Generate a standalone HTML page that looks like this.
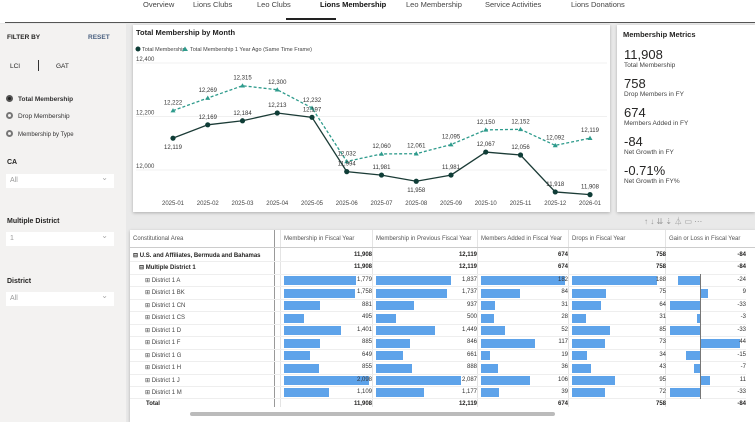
<!DOCTYPE html>
<html><head><meta charset="utf-8">
<style>
*{box-sizing:border-box;margin:0;padding:0}
body{width:755px;height:422px;overflow:hidden;background:#e9e9e9;font-family:"Liberation Sans",sans-serif;position:relative;color:#252423}
.abs{position:absolute}
.nav{left:0;top:0;width:755px;height:23px;background:#fff}
.nav span{position:absolute;top:0;font-size:7.5px;color:#444}
.left{left:0;top:24px;width:126px;height:398px;background:#f3f2f1}
.card{background:#fff;box-shadow:0 1px 3px rgba(0,0,0,.25)}
.t{font-size:6px;white-space:nowrap;position:absolute}
.dd{position:absolute;left:6px;width:108px;height:14px;background:#fff;font-size:7px;color:#999;padding:3px 4px}
.dd:after{content:"⌄";position:absolute;right:6px;top:-1px;color:#aaa;font-size:8px}
.radio{position:absolute;left:6px;font-size:6.5px;color:#333}
.radio i{display:inline-block;width:7px;height:7px;border-radius:50%;border:2px solid #777;vertical-align:-1px;margin-right:5px}
.m{position:absolute;left:7px}
.m b{font-weight:normal;font-size:13px;display:block;line-height:15px}
.m s{text-decoration:none;font-size:6.5px;color:#444;display:block;line-height:8px}
</style></head><body>
<div class="abs nav">
<span style="left:143px">Overview</span>
<span style="left:193px">Lions Clubs</span>
<span style="left:257px">Leo Clubs</span>
<span style="left:320px;font-weight:bold;color:#111">Lions Membership</span>
<span style="left:406px">Leo Membership</span>
<span style="left:485px">Service Activities</span>
<span style="left:571px">Lions Donations</span>
<div class="abs" style="left:286px;top:18px;width:50px;height:2px;background:#222"></div>
<div class="abs" style="left:5px;top:22px;width:750px;height:1px;background:#555"></div>
</div>

<div class="abs left">
<div class="t" style="left:7px;top:10px;font-weight:bold;font-size:6.5px">FILTER BY</div>
<div class="t" style="left:88px;top:10px;font-weight:bold;font-size:6.5px;color:#4a6080">RESET</div>
<div class="t" style="left:10px;top:39px;font-size:6.5px">LCI</div>
<div class="abs" style="left:38px;top:36px;width:1px;height:11px;background:#333"></div>
<div class="t" style="left:56px;top:39px;font-size:6.5px">GAT</div>
<div class="radio" style="top:71px;font-weight:bold"><i style="background:#222;border-color:#555"></i>Total Membership</div>
<div class="radio" style="top:88px"><i></i>Drop Membership</div>
<div class="radio" style="top:106px;font-size:6px"><i></i>Membership by Type</div>
<div class="t" style="left:7px;top:135px;font-weight:bold;font-size:7px">CA</div>
<div class="dd" style="top:150px">All</div>
<div class="t" style="left:7px;top:194px;font-weight:bold;font-size:7px">Multiple District</div>
<div class="dd" style="top:208px">1</div>
<div class="t" style="left:7px;top:254px;font-weight:bold;font-size:7px">District</div>
<div class="dd" style="top:268px">All</div>
</div>

<div class="abs card" style="left:133px;top:25px;width:477px;height:187px">
<svg id="chart" width="477" height="187" style="position:absolute;left:0;top:0"></svg>
</div>

<div class="abs card" style="left:617px;top:25px;width:138px;height:187px">
<div class="t" style="left:6px;top:5px;font-weight:bold;font-size:7.5px">Membership Metrics</div>
<div class="m" style="top:22px"><b>11,908</b><s>Total Membership</s></div>
<div class="m" style="top:51px"><b>758</b><s>Drop Members in FY</s></div>
<div class="m" style="top:80px"><b>674</b><s>Members Added in FY</s></div>
<div class="m" style="top:109px"><b>-84</b><s>Net Growth in FY</s></div>
<div class="m" style="top:138px"><b>-0.71%</b><s>Net Growth in FY%</s></div>
</div>
<div class="t" style="left:644px;top:216px;font-size:8px;color:#999">↑ ↓ ⇊ ⇣ ⏃ ▭ ⋯</div>

<div class="abs card" id="tbl" style="left:130px;top:230px;width:625px;height:192px"></div>

<script>
const months=["2025-01","2025-02","2025-03","2025-04","2025-05","2025-06","2025-07","2025-08","2025-09","2025-10","2025-11","2025-12","2026-01"];
const current=[12119,12169,12184,12213,12197,11994,11981,11958,11981,12067,12056,11918,11908];
const prior=[12222,12269,12315,12300,12232,12032,12060,12061,12095,12150,12152,12092,12119];
const yTicks=[12000,12200,12400];

const NS="http://www.w3.org/2000/svg";
const svg=document.getElementById('chart');
function mk(tag,attrs,parent){const e=document.createElementNS(NS,tag);for(const k in attrs)e.setAttribute(k,attrs[k]);(parent||svg).appendChild(e);return e;}
function txt(x,y,s,attrs){const e=mk('text',Object.assign({x:x,y:y,'font-size':6,'font-family':'Liberation Sans, sans-serif',fill:'#444'},attrs||{}));e.textContent=s;return e;}
const X=i=>40+i*34.75;
const Y=v=>145-(v-12000)*(53.5/200);
const ttl=txt(3,10,"Total Membership by Month",{'font-size':7.5,'font-weight':'bold',fill:'#222'});


const lg1=mk('circle',{cx:5,cy:24,r:2.5,fill:'#0f3d37'});


txt(9,26,"Total Membership",{'font-size':5.5});
const lg2=mk('path',{d:'M52,21.5 L55,26 L49,26 Z',fill:'#2e9b8c'});


txt(57,26,"Total Membership 1 Year Ago (Same Time Frame)",{'font-size':5.5});
yTicks.forEach(v=>{
  const g=mk('line',{x1:3,x2:474,y1:Y(v),y2:Y(v),stroke:'#f0f0f0','stroke-width':1});
  
  
  const l=txt(3,Y(v)-2,v.toLocaleString('en-US'),{'font-size':6});
  
  
});
months.forEach((m,i)=>{
  const l=txt(X(i),180,m,{'text-anchor':'middle'});
  
  
});
const pp=mk('polyline',{points:prior.map((v,i)=>X(i)+','+Y(v)).join(' '),fill:'none',stroke:'#2e9b8c','stroke-width':1.3,'stroke-dasharray':'3,2'});


const cp=mk('polyline',{points:current.map((v,i)=>X(i)+','+Y(v)).join(' '),fill:'none',stroke:'#1b3b36','stroke-width':1.3});


prior.forEach((v,i)=>{
  const x=X(i),y=Y(v);
  const t=mk('path',{d:`M${x},${y-2.5} L${x+2.5},${y+1.8} L${x-2.5},${y+1.8} Z`,fill:'#2e9b8c'});
  
  
  const l=txt(x,y-6,v.toLocaleString('en-US'),{'text-anchor':'middle','font-size':6,fill:'#333'});
  
  
});
current.forEach((v,i)=>{
  const x=X(i),y=Y(v);
  const c=mk('circle',{cx:x,cy:y,r:2.6,fill:'#0f3d37'});
  
  
  const below=(i===0||i===7);
  const l=txt(x,below?y+11:y-6,v.toLocaleString('en-US'),{'text-anchor':'middle','font-size':6,fill:'#333'});
  
  
});

// table
const districts=["District 1 A","District 1 BK","District 1 CN","District 1 CS","District 1 D","District 1 F","District 1 G","District 1 H","District 1 J","District 1 M"];
const memFY=[1779,1758,881,495,1401,885,649,855,2098,1109];
const memPrev=[1837,1737,937,500,1449,846,661,888,2087,1177];
const added=[182,84,31,28,52,117,19,36,106,39];
const drops=[188,75,64,31,85,73,34,43,95,72];
const gain=[-24,9,-33,-3,-33,44,-15,-7,11,-33];
const totals=["11,908","12,119","674","758","-84"];
const headers=["Membership in Fiscal Year","Membership in Previous Fiscal Year","Members Added in Fiscal Year","Drops in Fiscal Year","Gain or Loss in Fiscal Year"];

const tbl=document.getElementById('tbl');
const colL=[151,243,348,439,536], colR=[242,347,438,536,616];
function div(css,text,parent){const d=document.createElement('div');d.style.cssText='position:absolute;white-space:nowrap;'+css;if(text!=null)d.textContent=text;(parent||tbl).appendChild(d);return d;}
const fmt=v=>v.toLocaleString('en-US');
const h0=div('left:3px;top:6px;font-size:6px;color:#555','Constitutional Area');


headers.forEach((h,i)=>{
  const d=div(`left:${colL[i]+3}px;top:6px;font-size:6px;color:#555`,h);
  
  
  div(`left:${colL[i]-1}px;top:0;width:1px;height:177px;background:#e4e4e4`);
});
div('left:144px;top:0;width:1px;height:177px;background:#999');
div('left:0;top:17px;width:625px;height:1px;background:#ccc');
const rowH=12.45, top0=20;
function rowLine(y){div(`left:0;top:${y+rowH-1}px;width:616px;height:1px;background:#eee`);}
const r1=div(`left:3px;top:${top0+2}px;font-size:6px;font-weight:bold`,'⊟  U.S. and Affiliates, Bermuda and Bahamas');


const r2=div(`left:9px;top:${top0+rowH+2}px;font-size:6px;font-weight:bold`,'⊟  Multiple District 1');


[0,1].forEach(r=>{totals.forEach((t,i)=>div(`left:${colR[i]-60}px;width:60px;text-align:right;top:${top0+r*rowH+2}px;font-size:6px;font-weight:bold`,t));rowLine(top0+r*rowH);});
const series=[memFY,memPrev,added,drops];
const maxes=[2098,2087,182,188];
const barW=[85,85,84,85];
districts.forEach((d,r)=>{
  const y=top0+(r+2)*rowH;
  const n=div(`left:15px;top:${y+2}px;font-size:6px;color:#444`,'⊞  '+d);
  
  
  series.forEach((s,i)=>{
    const b=div(`left:${colL[i]+3}px;top:${y+1.5}px;height:9px;width:${s[r]/maxes[i]*barW[i]}px;background:#5ea3ea`);
    
    
    div(`left:${colR[i]-60}px;width:60px;text-align:right;top:${y+2}px;font-size:6px;color:#333`,fmt(s[r]));
  });
  const zero=570, sc=30/33;
  const g=gain[r];
  const gb=div(`left:${g<0?zero+g*sc:zero}px;top:${y+1.5}px;height:9px;width:${Math.abs(g)*sc}px;background:#5ea3ea`);
  
  
  div(`left:${colR[4]-60}px;width:60px;text-align:right;top:${y+2}px;font-size:6px;color:#333`,fmt(g));
  rowLine(y);
});
div('left:570px;top:44px;width:1px;height:125px;background:#777');
const ty=top0+12*rowH;
const tr=div(`left:16px;top:${ty+2}px;font-size:6px;font-weight:bold`,'Total');


totals.forEach((t,i)=>div(`left:${colR[i]-60}px;width:60px;text-align:right;top:${ty+2}px;font-size:6px;font-weight:bold`,t));
const sb=div('left:60px;top:182px;width:365px;height:4px;border-radius:2px;background:#bbb');


</script>
</body></html>
